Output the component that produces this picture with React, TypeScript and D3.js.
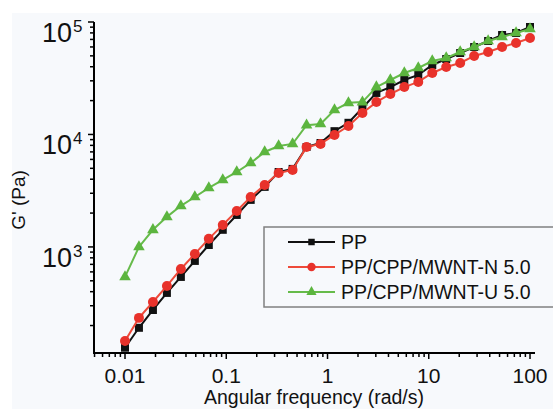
import React from 'react';
import * as d3 from 'd3';

const freq = [0.01, 0.01373, 0.01887, 0.02593, 0.03562, 0.04894, 0.06723, 0.09237, 0.1269, 0.1743,
  0.2395, 0.329, 0.452, 0.621, 0.8532, 1.172, 1.61, 2.212, 3.039, 4.175,
  5.736, 7.88, 10.83, 14.87, 20.43, 28.07, 38.57, 52.98, 72.79, 100];

const ppValues = [127, 191, 275, 390, 541, 751, 1040, 1420, 1925, 2620,
  3420, 4640, 4940, 7740, 8400, 10700, 12700, 17200, 23400, 26400,
  30500, 33800, 41500, 46900, 53000, 59900, 67800, 76600, 79800, 90300];

const nValues = [146, 234, 324, 450, 637, 867, 1180, 1570, 2090, 2780,
  3560, 4550, 4840, 7740, 8240, 9900, 11900, 15500, 19400, 22900,
  26400, 29300, 35200, 39800, 43200, 49900, 54100, 59900, 65100, 72100];

const uValues = [541, 1000, 1420, 1850, 2320, 2780, 3350, 3940, 4640, 5580,
  6990, 7900, 8240, 12100, 12400, 16500, 19100, 19400, 26400, 30500,
  35200, 39000, 45000, 47900, 54100, 59900, 67800, 73600, 79800, 86700];

const seriesNames = ['PP', 'PP/CPP/MWNT-N 5.0', 'PP/CPP/MWNT-U 5.0'];
const xTickLabels = ['0.01', '0.1', '1', '10', '100'];
const yTickExponents = ['3', '4', '5'];
const xTitle = 'Angular frequency (rad/s)';
const yTitle = "G' (Pa)";

const W = 553;
const H = 409;
const FONT = "'Liberation Sans', Arial, sans-serif";

export default function App() {
  const x = d3.scaleLog().domain([0.00494, 112]).range([94, 535]);
  const y = d3.scaleLog().domain([114, 1e5]).range([353, 22]);

  const isMajor = (t: number) => Math.abs(Math.log10(t) - Math.round(Math.log10(t))) < 1e-9;

  const series = [
    { name: seriesNames[0], values: ppValues, color: '#111111', lineColor: '#111111', shape: d3.symbolSquare, size: 64, lsize: 42 },
    { name: seriesNames[1], values: nValues, color: '#e8322b', lineColor: '#ee4a3a', shape: d3.symbolCircle, size: 78, lsize: 55 },
    { name: seriesNames[2], values: uValues, color: '#5cb53f', lineColor: '#66bb4a', shape: d3.symbolTriangle, size: 58, lsize: 45 },
  ];

  const line = (vals: number[]) =>
    d3.line<number>().x((_, i) => x(freq[i])).y((d) => y(d))(vals) || '';

  const xTicks = x.ticks();
  const yTicks = y.ticks();

  const legendX0 = 288;
  const legendX1 = 335;
  const legendYs = [242, 267, 292];

  return (
    <svg width={W} height={H} style={{ position: 'absolute', left: 0, top: 0 }} fontFamily={FONT}>
      <rect x={0} y={0} width={W} height={H} fill="#ffffff" />
      <rect x={12} y={13} width={W - 12} height={H - 13} fill="#f7f9fc" />

      {/* series */}
      {series.map((s) => (
        <g key={s.name}>
          <path d={line(s.values)} fill="none" stroke={s.lineColor} strokeWidth={2} />
          {s.values.map((v, i) => (
            <path
              key={i}
              d={d3.symbol().type(s.shape).size(s.size)() || ''}
              transform={`translate(${x(freq[i])},${y(v)})`}
              fill={s.color}
            />
          ))}
        </g>
      ))}

      {/* axes */}
      <line x1={94} x2={94} y1={y(1e5)} y2={y.range()[0]} stroke="#000" strokeWidth={2} />
      <line x1={93} x2={x.range()[1]} y1={353} y2={353} stroke="#000" strokeWidth={2} />
      {yTicks.map((t, i) => (
        <line key={'yt' + i} x1={94} x2={94 - (isMajor(t) ? 6 : 4)} y1={y(t)} y2={y(t)} stroke="#000" strokeWidth={1.5} />
      ))}
      {xTicks.map((t, i) => (
        <line key={'xt' + i} x1={x(t)} x2={x(t)} y1={353} y2={353 + (isMajor(t) ? 6 : 4)} stroke="#000" strokeWidth={1.5} />
      ))}

      {/* y tick labels */}
      {yTickExponents.map((e) => {
        const ty = y(Math.pow(10, +e));
        return (
          <g key={'yl' + e}>
            <text x={72} y={ty + 20} textAnchor="end" fontSize={27} fill="#111">10</text>
            <text x={73} y={ty + 10} textAnchor="start" fontSize={17} fill="#111">{e}</text>
          </g>
        );
      })}

      {/* x tick labels */}
      {xTickLabels.map((l) => (
        <text key={'xl' + l} x={x(+l)} y={383} textAnchor="middle" fontSize={21} fill="#111">{l}</text>
      ))}

      {/* titles */}
      <text x={314} y={404} textAnchor="middle" fontSize={19.5} fill="#111">{xTitle}</text>
      <text transform="translate(25,200) rotate(-90)" textAnchor="middle" fontSize={19} fill="#111">{yTitle}</text>

      {/* legend */}
      <rect x={264} y={227} width={300} height={80} fill="#f7f9fc" stroke="#808080" strokeWidth={1.5} />
      {series.map((s, i) => (
        <g key={'lg' + i}>
          <line x1={legendX0} x2={legendX1} y1={legendYs[i]} y2={legendYs[i]} stroke={s.lineColor} strokeWidth={2} />
          <path
            d={d3.symbol().type(s.shape).size(s.lsize)() || ''}
            transform={`translate(${(legendX0 + legendX1) / 2},${legendYs[i]})`}
            fill={s.color}
          />
          <text x={341} y={legendYs[i] + 7} fontSize={19.5} fill="#111">{s.name}</text>
        </g>
      ))}
    </svg>
  );
}
